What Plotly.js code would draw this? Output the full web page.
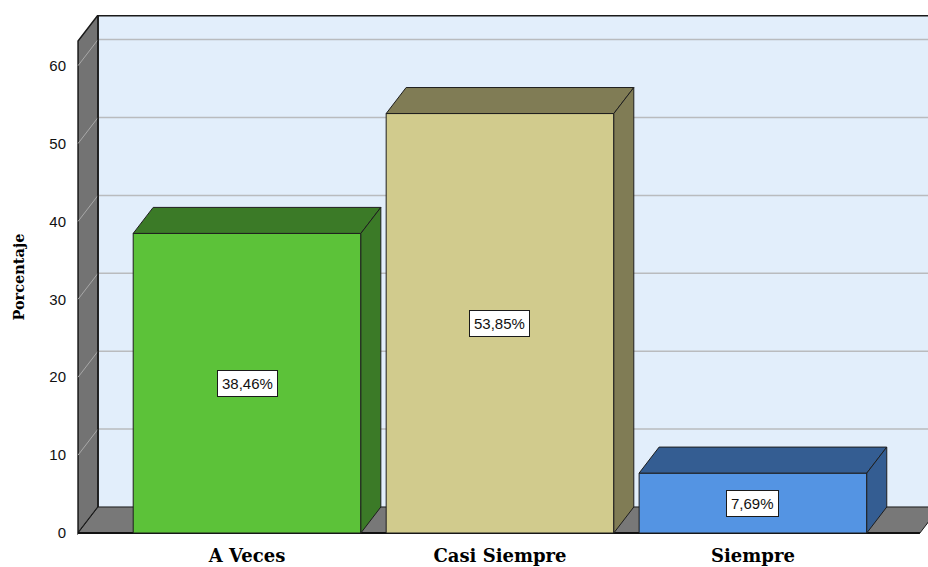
<!DOCTYPE html>
<html>
<head>
<meta charset="utf-8">
<script src="https://cdn.plot.ly/plotly-3.0.1.min.js"></script>
<style>html,body{margin:0;padding:0;background:#fff;}#chart{width:928px;height:567px;}</style>
</head>
<body>
<div id="chart"></div>
<script>
// ---- data ----
const categories = ['A Veces', 'Casi Siempre', 'Siempre'];
const values = [38.46, 53.85, 7.69];
const valueLabels = ['38,46%', '53,85%', '7,69%'];
const yTicks = [0, 10, 20, 30, 40, 50, 60];
const frontColors = ['#5CC239', '#D1CB8D', '#5494E3'];
const sideColors = ['#3B7A27', '#807C55', '#345D92'];

// ---- geometry (style) ----
const barW = 0.9;
const dx = 0.079;      // depth offset in category units
const dy = 3.34;       // depth offset in value units
const xL = -0.668;     // left wall front edge
const xMin = -0.684, xMax = 2.692;
const yMin = -0.257, yMax = 66.5;
const wallH = yMax - dy;
const floorRight = 2.66;

const xIdx = categories.map((c, i) => i);
const traces = [];

// front faces
traces.push({
  type: 'bar', x: xIdx, y: values, width: barW,
  marker: {color: frontColors, line: {color: '#1e1e1e', width: 1}},
  hoverinfo: 'skip', showlegend: false
});
// top + side faces derived from values
values.forEach((v, i) => {
  const l = xIdx[i] - barW / 2, r = xIdx[i] + barW / 2;
  traces.push({
    type: 'scatter', mode: 'lines', fill: 'toself', fillcolor: sideColors[i],
    x: [l, l + dx, r + dx, r, l], y: [v, v + dy, v + dy, v, v],
    line: {color: '#1e1e1e', width: 1}, hoverinfo: 'skip', showlegend: false
  });
  traces.push({
    type: 'scatter', mode: 'lines', fill: 'toself', fillcolor: sideColors[i],
    x: [r, r + dx, r + dx, r, r], y: [0, dy, v + dy, v, 0],
    line: {color: '#1e1e1e', width: 1}, hoverinfo: 'skip', showlegend: false
  });
});

const shapes = [];
// back wall
shapes.push({type: 'rect', layer: 'below', xref: 'x', yref: 'y',
  x0: xL + dx, x1: xMax + 1, y0: dy, y1: wallH + dy,
  fillcolor: '#E2EEFB', line: {width: 0}});
// gridlines
yTicks.forEach(k => {
  if (k === 0) return;
  shapes.push({type: 'line', layer: 'below', xref: 'x', yref: 'y',
    x0: xL + dx, x1: xMax + 1, y0: k + dy, y1: k + dy,
    line: {color: '#B9BBBE', width: 1.5}});
});
// left wall
shapes.push({type: 'path', layer: 'below', xref: 'x', yref: 'y',
  path: `M ${xL} 0 L ${xL} ${wallH} L ${xL + dx} ${wallH + dy} L ${xL + dx} ${dy} Z`,
  fillcolor: '#737373', line: {color: '#1a1a1a', width: 1.5}});
yTicks.forEach(k => {
  if (k === 0) return;
  shapes.push({type: 'line', layer: 'below', xref: 'x', yref: 'y',
    x0: xL, x1: xL + dx, y0: k, y1: k + dy,
    line: {color: '#A8A8A8', width: 1}});
});
// floor
shapes.push({type: 'path', layer: 'below', xref: 'x', yref: 'y',
  path: `M ${xL} 0 L ${xL + dx} ${dy} L ${floorRight + dx} ${dy} L ${floorRight} 0 Z`,
  fillcolor: '#787878', line: {color: '#1a1a1a', width: 1}});
// front baseline
shapes.push({type: 'line', layer: 'below', xref: 'x', yref: 'y',
  x0: xL, x1: floorRight, y0: 0, y1: 0, line: {color: '#111', width: 2}});
// back wall top and left border
shapes.push({type: 'line', layer: 'below', xref: 'x', yref: 'y',
  x0: xL + dx, x1: xMax + 1, y0: wallH + dy - 0.1, y1: wallH + dy - 0.1,
  line: {color: '#1a1a1a', width: 1.5}});
shapes.push({type: 'line', layer: 'below', xref: 'x', yref: 'y',
  x0: xL + dx, x1: xL + dx, y0: dy, y1: wallH + dy,
  line: {color: '#1a1a1a', width: 1.5}});

const annotations = values.map((v, i) => ({
  x: xIdx[i], y: v / 2, xref: 'x', yref: 'y', text: valueLabels[i], showarrow: false,
  font: {family: 'Liberation Sans, Arial, sans-serif', size: 15, color: '#111'},
  bgcolor: '#ffffff', bordercolor: '#1a1a1a', borderwidth: 1, borderpad: 4
}));
annotations.push({
  xref: 'paper', yref: 'paper', x: -0.065, y: 0.496, xanchor: 'center', yanchor: 'middle',
  text: 'Porcentaje', textangle: -90, showarrow: false,
  font: {family: 'DejaVu Serif, serif', size: 14.5, color: '#000', weight: 'bold'}
});

const layout = {
  width: 928, height: 567,
  margin: {l: 74, r: 0, t: 15, b: 32},
  paper_bgcolor: '#ffffff', plot_bgcolor: '#ffffff',
  showlegend: false, hovermode: false,
  xaxis: {range: [xMin, xMax], tickvals: xIdx, ticktext: categories,
    showgrid: false, zeroline: false, showline: false,
    ticks: 'outside', ticklen: 4, tickcolor: 'rgba(0,0,0,0)',
    tickfont: {family: 'DejaVu Serif, serif', size: 18, color: '#000', weight: 'bold'}},
  yaxis: {range: [yMin, yMax], tickvals: yTicks, ticktext: yTicks.map(String),
    showgrid: false, zeroline: false, showline: false,
    ticks: 'outside', ticklen: 4, tickcolor: 'rgba(0,0,0,0)',
    tickfont: {family: 'Liberation Sans, Arial, sans-serif', size: 15, color: '#111'}},
  shapes: shapes,
  annotations: annotations
};

Plotly.newPlot('chart', traces, layout, {displayModeBar: false, staticPlot: true});
</script>
</body>
</html>
